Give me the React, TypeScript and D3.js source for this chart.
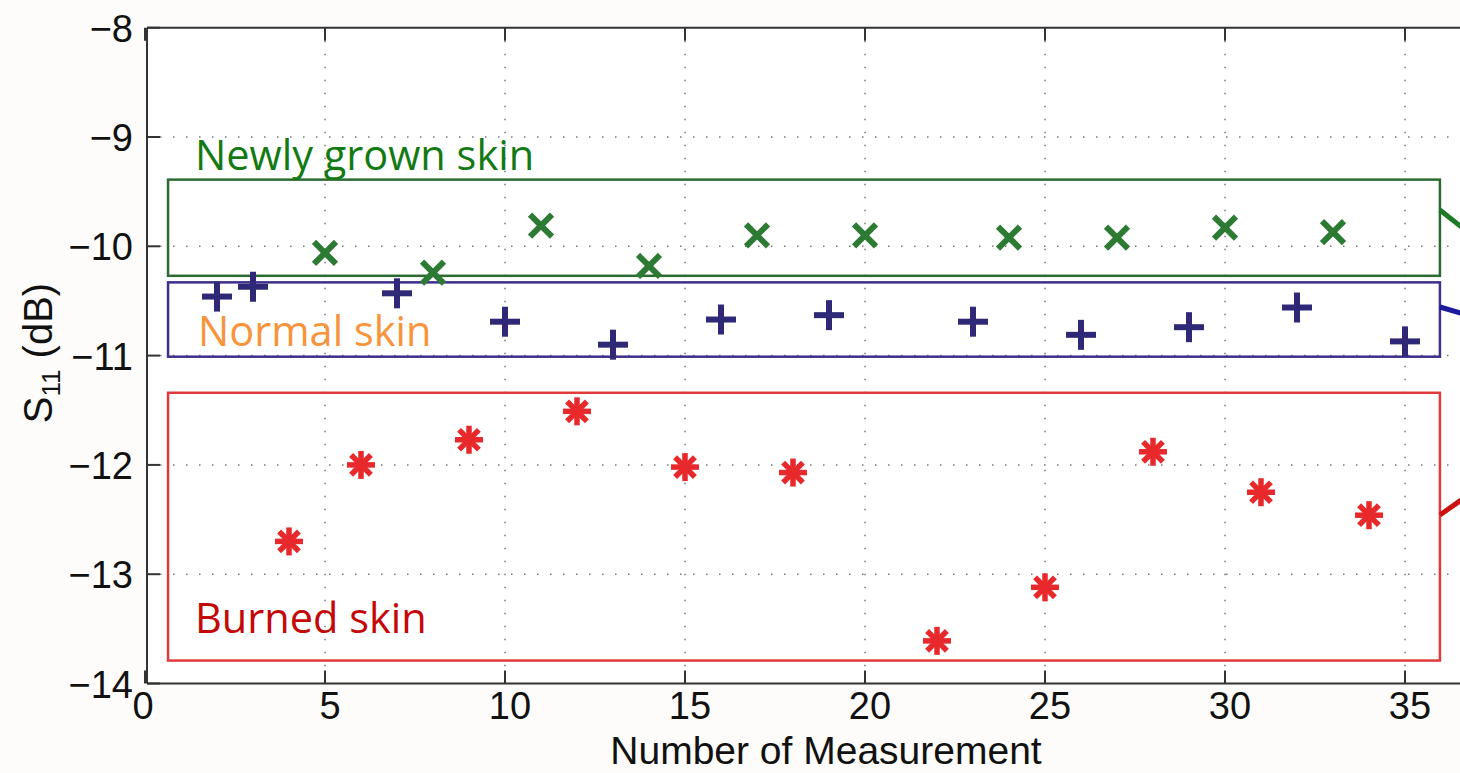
import React from "react";
import * as d3 from "d3";

// measurement numbers and S11 readings (dB)
const grownX = [5, 8, 11, 14, 17, 20, 24, 27, 30, 33];
const grownY = [-10.06, -10.24, -9.81, -10.18, -9.9, -9.9, -9.92, -9.92, -9.83, -9.87];

const normalX = [2, 3, 7, 10, 13, 16, 19, 23, 26, 29, 32, 35];
const normalY = [-10.46, -10.37, -10.43, -10.69, -10.9, -10.67, -10.63, -10.69, -10.81, -10.74, -10.56, -10.87];

const burnedX = [4, 6, 9, 12, 15, 18, 22, 25, 28, 31, 34];
const burnedY = [-12.7, -12.0, -11.77, -11.51, -12.02, -12.07, -13.61, -13.12, -11.88, -12.25, -12.46];

const xTicks = [0, 5, 10, 15, 20, 25, 30, 35];
const yTicks = [-8, -9, -10, -11, -12, -13, -14];

// annotation boxes in data units: [x0, x1, yTop, yBottom]
const grownBox = [0.64, 35.97, -9.39, -10.27];
const normalBox = [0.64, 35.97, -10.33, -11.01];
const burnedBox = [0.64, 35.97, -11.34, -13.79];

const W = 1460;
const H = 773;

const App = () => {
  const x = d3.scaleLinear().domain([0, 40]).range([145, 145 + 40 * 36]);
  const y = d3.scaleLinear().domain([-14, -8]).range([683.5, 27.7]);

  const left = 147;
  const top = y(-8);
  const bottom = y(-14);
  const tickLen = 13;
  const axisFont = "'Liberation Sans', Arial, sans-serif";
  const noteFont = "'Open Sans', sans-serif";

  const box = (b: number[], color: string, key: string) => (
    <rect
      key={key}
      x={x(b[0])}
      y={y(b[2])}
      width={x(b[1]) - x(b[0])}
      height={y(b[3]) - y(b[2])}
      fill="none"
      stroke={color}
      strokeWidth={2.5}
    />
  );

  const cross = (cx: number, cy: number, i: number) => {
    const r = 11;
    return (
      <g key={"g" + i} stroke="#2c7a33" strokeWidth={6}>
        <line x1={cx - r} y1={cy - r} x2={cx + r} y2={cy + r} />
        <line x1={cx - r} y1={cy + r} x2={cx + r} y2={cy - r} />
      </g>
    );
  };

  const plus = (cx: number, cy: number, i: number) => {
    const r = 15;
    return (
      <g key={"n" + i} stroke="#2e2876" strokeWidth={6}>
        <line x1={cx - r} y1={cy} x2={cx + r} y2={cy} />
        <line x1={cx} y1={cy - r} x2={cx} y2={cy + r} />
      </g>
    );
  };

  const star = (cx: number, cy: number, i: number) => {
    const r = 14;
    const angles = d3.range(4).map((k) => (k * Math.PI) / 4);
    return (
      <g key={"b" + i} stroke="#e8292b" strokeWidth={5.5}>
        {angles.map((a, j) => (
          <line
            key={j}
            x1={cx - r * Math.cos(a)}
            y1={cy - r * Math.sin(a)}
            x2={cx + r * Math.cos(a)}
            y2={cy + r * Math.sin(a)}
          />
        ))}
      </g>
    );
  };

  return (
    <div style={{ position: "absolute", left: 0, top: 0 }}>
      <svg width={W} height={H} style={{ display: "block", background: "#fdfcfa" }}>
        <rect x={left} y={top} width={W - left} height={bottom - top} fill="#ffffff" />

        {/* dotted grid */}
        <g stroke="#777" strokeWidth={1.5} strokeDasharray="1.5,11.5">
          {xTicks.slice(1).map((t) => (
            <line key={"gx" + t} x1={x(t)} x2={x(t)} y1={top} y2={bottom} />
          ))}
          {yTicks.slice(1, -1).map((t) => (
            <line key={"gy" + t} x1={left} x2={W} y1={y(t)} y2={y(t)} />
          ))}
        </g>

        {/* axes box */}
        <g stroke="#333" strokeWidth={2}>
          <line x1={left} x2={W} y1={top} y2={top} />
          <line x1={left} x2={W} y1={bottom} y2={bottom} />
          <line x1={left} x2={left} y1={top} y2={bottom} />
          {xTicks.map((t) => (
            <g key={"tx" + t}>
              <line x1={x(t)} x2={x(t)} y1={bottom} y2={bottom - tickLen} />
              <line x1={x(t)} x2={x(t)} y1={top} y2={top + tickLen} />
            </g>
          ))}
          {yTicks.map((t) => (
            <line key={"ty" + t} x1={left} x2={left + tickLen} y1={y(t)} y2={y(t)} />
          ))}
        </g>

        {/* tick labels */}
        <g fontFamily={axisFont} fontSize={38} fill="#111">
          {xTicks.map((t) => (
            <text key={"lx" + t} x={x(t) + (t === 0 ? -2 : 5)} y={719} textAnchor="middle">
              {d3.format("d")(t)}
            </text>
          ))}
          {yTicks.map((t) => (
            <text key={"ly" + t} x={133} y={y(t) + 14} textAnchor="end">
              {d3.format("d")(t)}
            </text>
          ))}
        </g>

        <text
          x={826}
          y={764}
          textAnchor="middle"
          fontFamily={axisFont}
          fontSize={39}
          fill="#111"
        >
          Number of Measurement
        </text>
        <text
          transform="translate(52,353) rotate(-90)"
          textAnchor="middle"
          fontFamily={axisFont}
          fontSize={40}
          fill="#111"
        >
          S<tspan fontSize={26} dy={8}>11</tspan>
          <tspan dy={-8}> (dB)</tspan>
        </text>

        {/* annotation boxes */}
        {box(grownBox, "#2b6b32", "bg")}
        {box(normalBox, "#3d2f8c", "bn")}
        {box(burnedBox, "#e2393a", "bb")}

        {/* pointer lines leaving the right edge */}
        <g strokeWidth={5}>
          <line x1={x(grownBox[1])} y1={210} x2={W + 4} y2={229} stroke="#1e7a25" />
          <line x1={x(normalBox[1])} y1={307} x2={W + 4} y2={314} stroke="#1a1a9a" />
          <line x1={x(burnedBox[1])} y1={515} x2={W + 4} y2={498} stroke="#cc1111" />
        </g>

        {/* markers */}
        {grownX.map((v, i) => cross(x(v), y(grownY[i]), i))}
        {normalX.map((v, i) => plus(x(v), y(normalY[i]), i))}
        {burnedX.map((v, i) => star(x(v), y(burnedY[i]), i))}

        {/* region labels */}
        <g fontFamily={noteFont} fontSize={41.5}>
          <text x={195} y={170} fill="#137a13">Newly grown skin</text>
          <text x={198} y={346} fill="#f7943c">Normal skin</text>
          <text x={195} y={633} fill="#c40808">Burned skin</text>
        </g>
      </svg>
    </div>
  );
};

export default App;
